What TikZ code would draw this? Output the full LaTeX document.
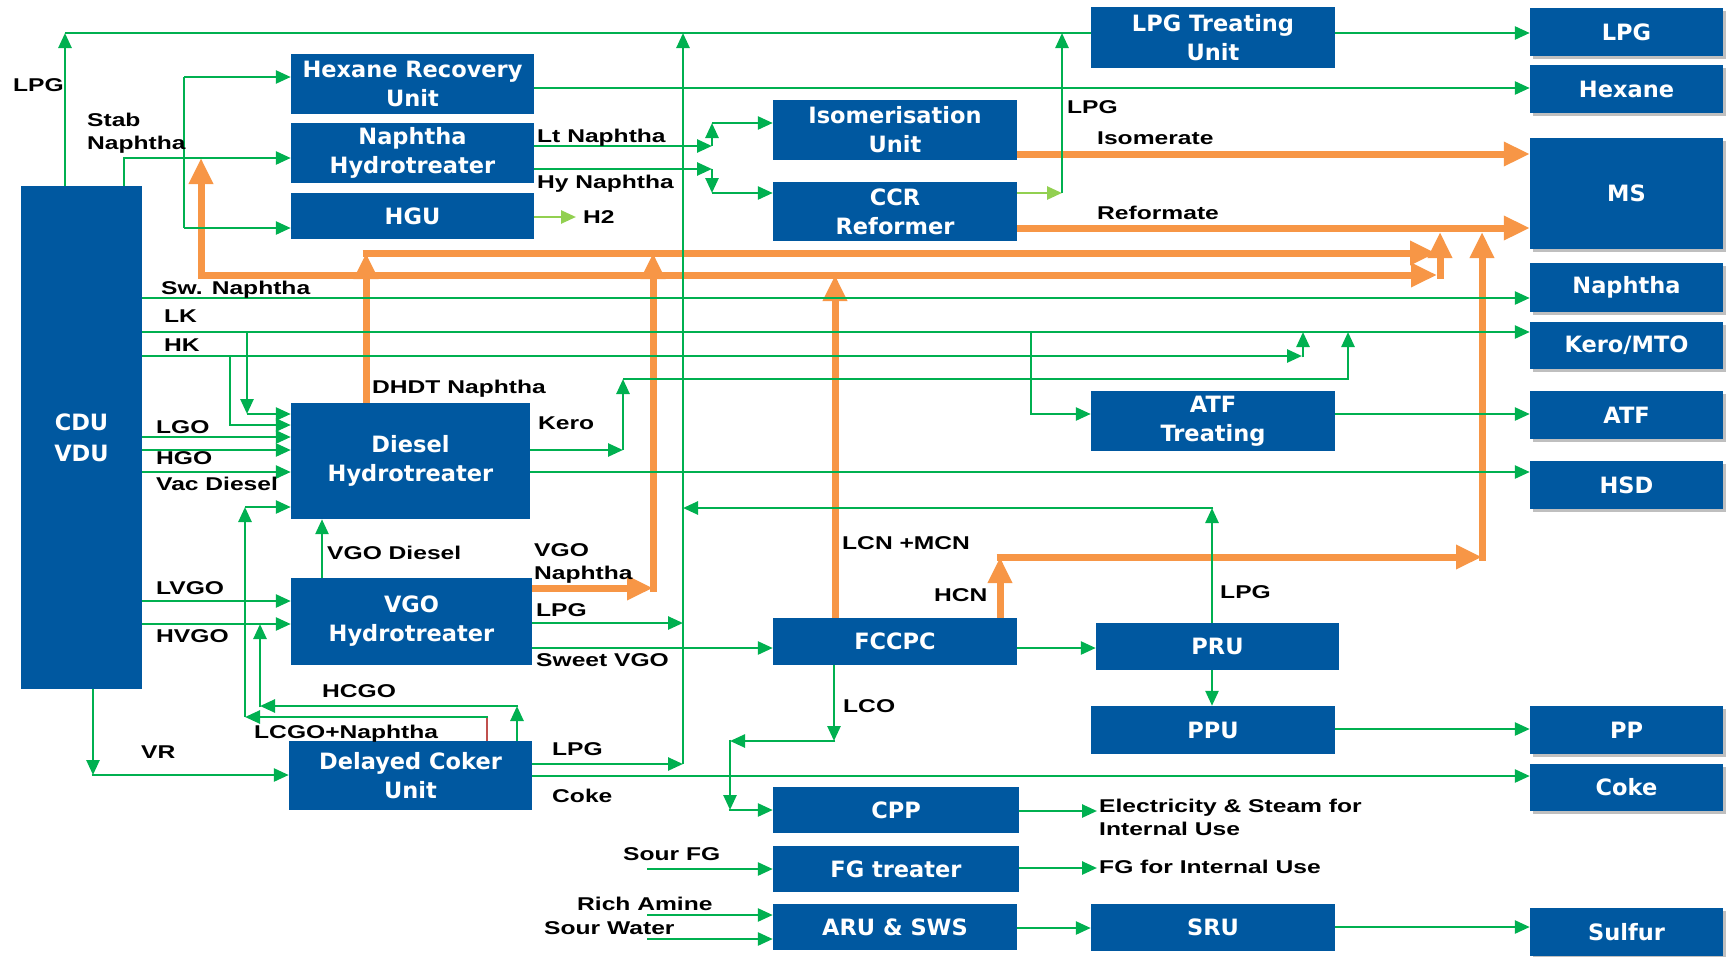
\documentclass[tikz,border=0pt]{standalone}
\usepackage{fontspec}
\setmainfont{DejaVu Sans}
\newfontfamily\lblfamily[FakeStretch=1.33]{Liberation Sans}
\usetikzlibrary{arrows.meta,shadows}
\definecolor{bx}{RGB}{0,88,160}
\definecolor{grn}{RGB}{0,176,80}
\definecolor{lgrn}{RGB}{146,208,80}
\definecolor{org}{RGB}{247,150,70}
\definecolor{rdl}{RGB}{192,80,77}
\newcommand{\boxfnt}{\fontsize{22.5}{29}\selectfont\bfseries}
\newcommand{\lblfnt}{\lblfamily\fontsize{18.5}{23}\selectfont\bfseries}
\tikzset{
  unit/.style={fill=bx, text=white, font=\boxfnt, align=center, inner sep=0pt, anchor=center},
  prod/.style={unit, drop shadow={shadow xshift=3pt, shadow yshift=-3pt, fill=black, opacity=0.25}},
  g/.style={draw=grn, line width=2.6pt},
  ga/.style={g, -{Triangle[length=15pt,width=13pt]}},
  lga/.style={draw=lgrn, line width=2.6pt, -{Triangle[length=15pt,width=13pt]}},
  o/.style={draw=org, line width=7pt},
  oa/.style={o, -{Triangle[length=26pt,width=23pt]}},
  lbl/.style={font=\lblfnt, anchor=base west, inner sep=0pt, text=black},
  lbl2/.style={font=\lblfnt, anchor=west, inner sep=0pt, text=black, align=left},
}
\begin{document}
\begin{tikzpicture}[x=1pt,y=-1pt]
\useasboundingbox (0,0) rectangle (1731,956);
% ---------- units ----------
\node[unit, minimum width=121pt, minimum height=503pt] (cdu) at (81.5,437.5) {CDU\\[2pt]VDU};
\node[unit, minimum width=243pt, minimum height=60pt] (hex) at (412.5,84) {Hexane Recovery\\Unit};
\node[unit, minimum width=243pt, minimum height=60pt] (nht) at (412.5,153) {Naphtha\\Hydrotreater};
\node[unit, minimum width=243pt, minimum height=46pt] (hgu) at (412.5,216) {HGU};
\node[unit, minimum width=244pt, minimum height=61pt] (lpgt) at (1213,37.5) {LPG Treating\\Unit};
\node[unit, minimum width=244pt, minimum height=60pt] (iso) at (895,130) {Isomerisation\\Unit};
\node[unit, minimum width=244pt, minimum height=59pt] (ccr) at (895,211.5) {CCR\\Reformer};
\node[unit, minimum width=239pt, minimum height=116pt] (dhdt) at (410.5,461) {Diesel\\Hydrotreater};
\node[unit, minimum width=241pt, minimum height=87pt] (vgo) at (411.5,621.5) {VGO\\Hydrotreater};
\node[unit, minimum width=243pt, minimum height=69pt] (dcu) at (410.5,775.5) {Delayed Coker\\Unit};
\node[unit, minimum width=244pt, minimum height=60pt] (atft) at (1213,421) {ATF\\Treating};
\node[unit, minimum width=244pt, minimum height=47pt] (fcc) at (895,641.5) {FCCPC};
\node[unit, minimum width=243pt, minimum height=47pt] (pru) at (1217.5,646.5) {PRU};
\node[unit, minimum width=244pt, minimum height=48pt] (ppu) at (1213,730) {PPU};
\node[unit, minimum width=246pt, minimum height=46pt] (cpp) at (896,810) {CPP};
\node[unit, minimum width=246pt, minimum height=46pt] (fgt) at (896,869) {FG treater};
\node[unit, minimum width=244pt, minimum height=46pt] (aru) at (895,927) {ARU \& SWS};
\node[unit, minimum width=244pt, minimum height=47pt] (sru) at (1213,927.5) {SRU};
% ---------- products ----------
\node[prod, minimum width=193pt, minimum height=48pt] (pLPG) at (1626.5,32) {LPG};
\node[prod, minimum width=193pt, minimum height=48pt] (pHex) at (1626.5,89) {Hexane};
\node[prod, minimum width=193pt, minimum height=111pt] (pMS) at (1626.5,193.5) {MS};
\node[prod, minimum width=193pt, minimum height=49pt] (pNap) at (1626.5,287.5) {Naphtha};
\node[prod, minimum width=193pt, minimum height=47pt] (pKero) at (1626.5,345.5) {Kero/MTO};
\node[prod, minimum width=193pt, minimum height=48pt] (pATF) at (1626.5,415) {ATF};
\node[prod, minimum width=193pt, minimum height=48pt] (pHSD) at (1626.5,485) {HSD};
\node[prod, minimum width=193pt, minimum height=48pt] (pPP) at (1626.5,730) {PP};
\node[prod, minimum width=193pt, minimum height=47pt] (pCoke) at (1626.5,787.5) {Coke};
\node[prod, minimum width=193pt, minimum height=48pt] (pSul) at (1626.5,932) {Sulfur};
% ---------- orange (gasoline pool) ----------
\draw[oa] (iso.east |- 0,154) -- (pMS.west |- 0,154);
\draw[oa] (ccr.east |- 0,228) -- (pMS.west |- 0,228);
\draw[oa] (362.5,253) -- (1436,253);
\draw[o, {Triangle[length=26pt,width=23pt]}-{Triangle[length=26pt,width=23pt]}] (201,158) -- (201,275) -- (1437,275);
\draw[oa] (dhdt.north -| 366,0) -- (366,253);
\draw[oa] (vgo.east |- 0,588) -- (653,588);
\draw[oa] (653,591.5) -- (653,253);
\draw[oa] (fcc.north -| 835,0) -- (835,275);
\draw[oa] (fcc.north -| 1000,0) -- (1000,557);
\draw[oa] (996.5,557) -- (1482,557);
\draw[oa] (1482,560.5) -- (1482,232);
\draw[oa] (1440,278.5) -- (1440,232);
% ---------- green ----------
\coordinate (jL) at (65,33);
\draw[ga] (jL |- cdu.north) -- (jL);
\draw[g] (jL) -- (lpgt.west |- jL);
\draw[ga] (lpgt.east |- jL) -- (pLPG.west |- jL);
\draw[ga] (683,764) -- (683,33);
\coordinate (jR) at (1062,193);
\draw[lga] (ccr.east |- jR) -- (jR);
\draw[ga] (jR) -- (jR |- jL);
\draw[ga] (hex.east |- 0,88) -- (pHex.west |- 0,88);
% stab naphtha
\draw[g] (cdu.north -| 124,0) |- (184,158);
\draw[ga] (184,158) -- (nht.west |- 0,158);
\draw[g] (184,77) -- (184,228);
\draw[ga] (184,77) -- (hex.west |- 0,77);
\draw[ga] (184,228) -- (hgu.west |- 0,228);
% naphtha HT outputs
\draw[ga] (nht.east |- 0,146) -- (712,146);
\draw[ga] (712,146) -- (712,123);
\draw[ga] (712,123) -- (iso.west |- 0,123);
\draw[ga] (nht.east |- 0,169) -- (712,169);
\draw[ga] (712,169) -- (712,193);
\draw[ga] (712,193) -- (ccr.west |- 0,193);
\draw[lga] (hgu.east |- 0,217) -- (576,217);
% CDU side draws
\draw[ga] (cdu.east |- 0,298) -- (pNap.west |- 0,298);
\draw[ga] (cdu.east |- 0,332) -- (pKero.west |- 0,332);
\draw[ga] (cdu.east |- 0,356) -- (1302,356);
\draw[ga] (1303,357.3) -- (1303,332);
\draw[ga] (247,332) -- (247,414);
\draw[ga] (247,414) -- (dhdt.west |- 0,414);
\draw[ga] (230,356) |- (dhdt.west |- 0,425);
\draw[ga] (cdu.east |- 0,437) -- (dhdt.west |- 0,437);
\draw[ga] (cdu.east |- 0,450) -- (dhdt.west |- 0,450);
\draw[ga] (cdu.east |- 0,472) -- (dhdt.west |- 0,472);
% DHDT outputs
\draw[ga] (dhdt.east |- 0,450) -- (623,450);
\draw[ga] (623,450) -- (623,379);
\draw[ga] (623,379) -| (1348,332);
\draw[ga] (dhdt.east |- 0,472) -- (pHSD.west |- 0,472);
% ATF
\draw[ga] (1031,332) |- (atft.west |- 0,414);
\draw[ga] (atft.east |- 0,414) -- (pATF.west |- 0,414);
% coker returns
\draw[ga] (245,717) -- (245,507);
\draw[ga] (245,507) -- (dhdt.west |- 0,507);
\draw[draw=rdl, line width=1.6pt] (dcu.north -| 487,0) -- (487,717);
\draw[ga] (488,717) -- (245,717);
\draw[ga] (dcu.north -| 517,0) -- (517,706);
\draw[ga] (518.3,706) -- (260,706);
\draw[ga] (260,707.3) -- (260,624);
% VGO HT
\draw[ga] (cdu.east |- 0,601) -- (vgo.west |- 0,601);
\draw[ga] (cdu.east |- 0,624) -- (vgo.west |- 0,624);
\draw[ga] (vgo.north -| 322,0) -- (dhdt.south -| 322,0);
\draw[ga] (vgo.east |- 0,623) -- (683,623);
\draw[ga] (vgo.east |- 0,648) -- (fcc.west |- 0,648);
% FCC / PRU
\draw[ga] (fcc.east |- 0,648) -- (pru.west |- 0,648);
\draw[ga] (pru.north -| 1212,0) -- (1212,508);
\draw[ga] (1213.3,508) -- (683,508);
\draw[ga] (pru.south -| 1212,0) -- (ppu.north -| 1212,0);
\draw[ga] (ppu.east |- 0,729) -- (pPP.west |- 0,729);
\draw[ga] (fcc.south -| 834,0) -- (834,741);
\draw[ga] (835.3,741) -- (730,741);
\draw[ga] (730,739.7) -- (730,810);
\draw[ga] (728.7,810) -- (cpp.west |- 0,810);
% coker
\draw[ga] (cdu.south -| 93,0) -- (93,775);
\draw[ga] (91.7,775) -- (dcu.west |- 0,775);
\draw[ga] (dcu.east |- 0,764) -- (683,764);
\draw[ga] (dcu.east |- 0,776) -- (pCoke.west |- 0,776);
% utilities
\draw[ga] (cpp.east |- 0,811) -- (1097,811);
\draw[ga] (fgt.east |- 0,868) -- (1097,868);
\draw[ga] (647,869) -- (fgt.west |- 0,869);
\draw[ga] (647,915) -- (aru.west |- 0,915);
\draw[ga] (647,939) -- (aru.west |- 0,939);
\draw[ga] (aru.east |- 0,928) -- (sru.west |- 0,928);
\draw[ga] (sru.east |- 0,927) -- (pSul.west |- 0,927);
% ---------- labels ----------
\node[lbl] (tLPG1) at (13,91.5) {LPG};
\node[lbl2] (tStab) at (87,133) {Stab\\Naphtha};
\node[lbl] (tLt) at (537,142.5) {Lt Naphtha};
\node[lbl] (tHy) at (537,188.5) {Hy Naphtha};
\node[lbl] (tH2) at (583,223.5) {H2};
\node[lbl] (tLPG2) at (1067,113.5) {LPG};
\node[lbl] (tIso) at (1097,144.5) {Isomerate};
\node[lbl] (tRef) at (1097,219.5) {Reformate};
\node[lbl] (tSw) at (161,294.5) {Sw. Naphtha};
\node[lbl] (tLK) at (164,322.5) {LK};
\node[lbl] (tHK) at (164,351.5) {HK};
\node[lbl] (tDHDT) at (372,393.5) {DHDT Naphtha};
\node[lbl] (tKero) at (538,429.5) {Kero};
\node[lbl] (tLGO) at (156,433.5) {LGO};
\node[lbl] (tHGO) at (156,464.5) {HGO};
\node[lbl] (tVac) at (156,490.5) {Vac Diesel};
\node[lbl] (tVGOD) at (327,559.5) {VGO Diesel};
\node[lbl2] (tVGON) at (534,563) {VGO\\Naphtha};
\node[lbl] (tLCN) at (842,549.5) {LCN +MCN};
\node[lbl] (tHCN) at (934,601.5) {HCN};
\node[lbl] (tLPG3) at (1220,598.5) {LPG};
\node[lbl] (tLVGO) at (156,594.5) {LVGO};
\node[lbl] (tHVGO) at (156,642.5) {HVGO};
\node[lbl] (tLPG4) at (536,616.5) {LPG};
\node[lbl] (tSweet) at (536,666.5) {Sweet VGO};
\node[lbl] (tHCGO) at (322,697.5) {HCGO};
\node[lbl] (tLCGO) at (254,738.5) {LCGO+Naphtha};
\node[lbl] (tLCO) at (843,712.5) {LCO};
\node[lbl] (tVR) at (141,758.5) {VR};
\node[lbl] (tLPG5) at (552,755.5) {LPG};
\node[lbl] (tCoke) at (552,802.5) {Coke};
\node[lbl2] (tElec) at (1099,817) {Electricity \& Steam for\\Internal Use};
\node[lbl] (tFG) at (1099,873.5) {FG for Internal Use};
\node[lbl] (tSour) at (623,860.5) {Sour FG};
\node[lbl] (tRich) at (577,910.5) {Rich Amine};
\node[lbl] (tWater) at (544,934.5) {Sour Water};
\end{tikzpicture}
\end{document}
